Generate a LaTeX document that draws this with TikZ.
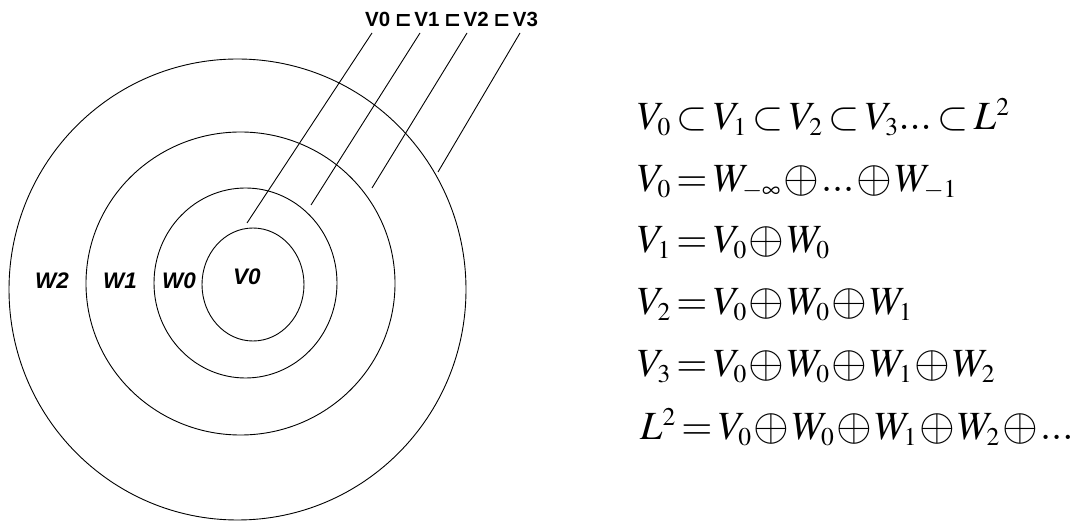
\documentclass[tikz,border=0pt]{standalone}
\usepackage{mathptmx}
\usepackage[no-math]{fontspec}
\newfontfamily\labfont{Liberation Sans}
\newfontfamily\opfont{DejaVu Sans}
\usetikzlibrary{shapes,positioning}
\DeclareMathSizes{40}{40}{25.5}{20}
\tikzset{
subring/.style={ellipse,draw=black,line width=0.9pt,inner sep=0pt},
ringlab/.style={font=\labfont\bfseries\itshape\fontsize{22.5}{26}\selectfont},
toplab/.style={font=\labfont\bfseries\fontsize{20.5}{24}\selectfont,anchor=base west,inner sep=0pt},
eqline/.style={font=\fontsize{40}{48}\selectfont,anchor=base west,inner sep=0pt,
  execute at begin node={\thickmuskip=2.5mu\medmuskip=1mu}},
leadline/.style={line width=0.9pt}
}
\newcommand{\chainop}{\hspace{4.5pt}{\opfont\bfseries ⊏}\hspace{2.5pt}}
\newcommand{\dsum}{\mathbin{\raisebox{-0.3pt}{\scalebox{1.15}{$\oplus$}}}}

\begin{document}
\begin{tikzpicture}[x=1pt,y=1pt]
\useasboundingbox (0,0) rectangle (1090,525);
% nested subspaces
\node[subring,minimum width=457pt,minimum height=461pt] (c3) at (237.5,235.5) {};
\node[subring,minimum width=309pt,minimum height=303pt] (c2) at (240.5,241.5) {};
\node[subring,minimum width=183pt,minimum height=190pt] (c1) at (245.5,242) {};
\node[subring,minimum width=102pt,minimum height=113pt] (c0) at (253,240.5) {};
\node[ringlab] (w2) at (52,244) {W2};
\node[ringlab] (w1) at (120,244) {W1};
\node[ringlab] (w0) at (179,244) {W0};
\node[ringlab] (v0) at (247,248) {V0};
% chain label and leaders
\node[toplab] (chain) at (365,498) {V0\chainop V1\chainop V2\chainop V3};
\coordinate (t0) at (372,492);
\coordinate (t1) at (420,492);
\coordinate (t2) at (467,492);
\coordinate (t3) at (520,492);
\coordinate (b0) at (247,302);
\coordinate (b1) at (311,320);
\coordinate (b2) at (372,337);
\coordinate (b3) at (438,353);
\foreach \i in {0,...,3}
  \draw[leadline] (t\i) -- (b\i);
% decomposition
\node[eqline] (eq1) at (637,395) {$V_0\subset V_1\subset V_2\subset V_3...\subset L^2$};
\node[eqline] (eq2) at (637,333) {$V_0=W_{-\infty}\dsum...\dsum W_{-1}$};
\node[eqline] (eq3) at (637,272) {$V_1=V_0\dsum W_0$};
\node[eqline] (eq4) at (637,210) {$V_2=V_0\dsum W_0\dsum W_1$};
\node[eqline] (eq5) at (637,148) {$V_3=V_0\dsum W_0\dsum W_1\dsum W_2$};
\node[eqline] (eq6) at (640,85) {$L^2=V_0\dsum W_0\dsum W_1\dsum W_2\dsum...$};
\end{tikzpicture}
\end{document}
